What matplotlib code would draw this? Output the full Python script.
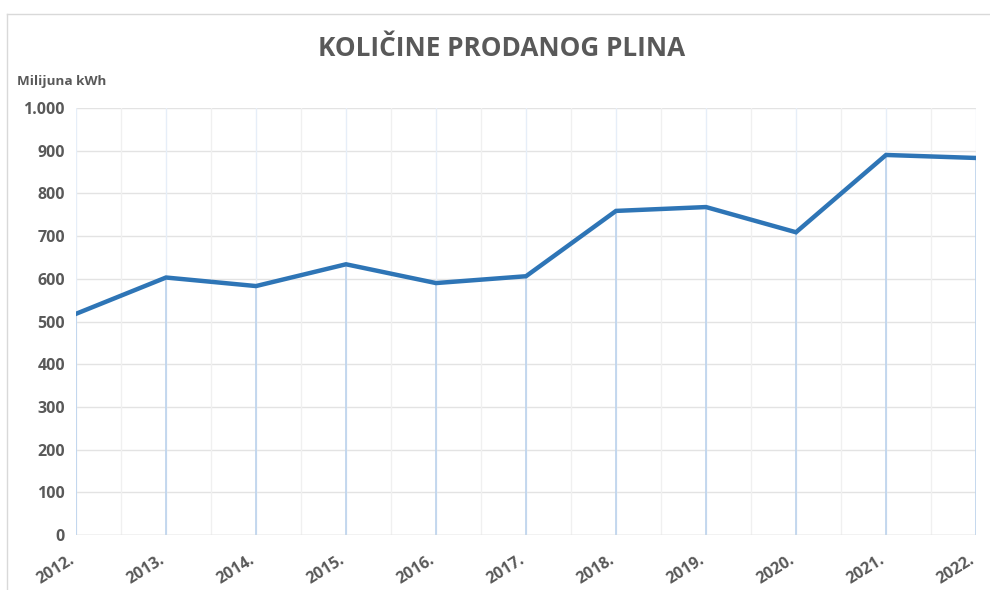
import numpy as np
import matplotlib.pyplot as plt
from matplotlib.lines import Line2D
from matplotlib.transforms import ScaledTranslation

# data
years = ['2012.', '2013.', '2014.', '2015.', '2016.', '2017.',
         '2018.', '2019.', '2020.', '2021.', '2022.']
sold_gas = [518, 603, 583, 634, 590, 606, 759, 768, 709, 890, 883]
y_ticks = [0, 100, 200, 300, 400, 500, 600, 700, 800, 900, 1000]
y_labels = ['0', '100', '200', '300', '400', '500', '600', '700', '800', '900', '1.000']

plt.rcParams['font.family'] = ['Open Sans', 'DejaVu Sans']
txt = '#595959'

fig = plt.figure(figsize=(9.9, 5.9), dpi=100)
ax = fig.add_axes([76/990, 1-535/590, 900/990, 427/590])

x = np.arange(len(years))

# grid: light gray horizontal + minor vertical, faint blue at the years
for yv in y_ticks:
    ax.axhline(yv, color='#e3e3e3', lw=1.0, zorder=0)
for xv in x[:-1] + 0.5:
    ax.axvline(xv, color='#f0f0f0', lw=1.0, zorder=0)
for xv in x:
    ax.axvline(xv, color='#e6eef8', lw=1.0, zorder=0)

# drop lines
ax.vlines(x, 0, sold_gas, color='#bcd3ec', lw=1.2, zorder=1)

ax.plot(x, sold_gas, color='#2e75b6', lw=3.2, solid_joinstyle='miter', zorder=3)

ax.set_xlim(0, len(years) - 1)
ax.set_ylim(0, 1000)
ax.set_yticks(y_ticks)
ax.set_yticklabels(y_labels)
ax.set_xticks(x)
ax.set_xticklabels(years, rotation=32, ha='right', rotation_mode='anchor')
for s in ax.spines.values():
    s.set_visible(False)
ax.axhline(0, color='#d9d9d9', lw=1.0, zorder=2)
ax.tick_params(length=0, colors=txt, labelsize=11.5, pad=8)
ax.tick_params(axis='x', pad=12, labelsize=11.5)
for lab in ax.get_xticklabels() + ax.get_yticklabels():
    lab.set_fontweight('bold')
    lab.set_color(txt)
shift = ScaledTranslation(-0.07, 0, fig.dpi_scale_trans)
for lab in ax.get_xticklabels():
    lab.set_transform(lab.get_transform() + shift)

fig.text(0.507, 1-48/590, 'KOLIČINE PRODANOG PLINA', ha='center', va='center',
         fontsize=18.8, fontweight='bold', color=txt)
fig.text(17/990, 1-82/590, 'Milijuna kWh', ha='left', va='center',
         fontsize=9.7, fontweight='bold', color=txt)

# outer chart frame
fig.add_artist(Line2D([7/990, 1.0], [1-14/590, 1-14/590], color='#d9d9d9', lw=1.0))
fig.add_artist(Line2D([7/990, 7/990], [0, 1-14/590], color='#d9d9d9', lw=1.0))

fig.savefig('out.png', dpi=100)
